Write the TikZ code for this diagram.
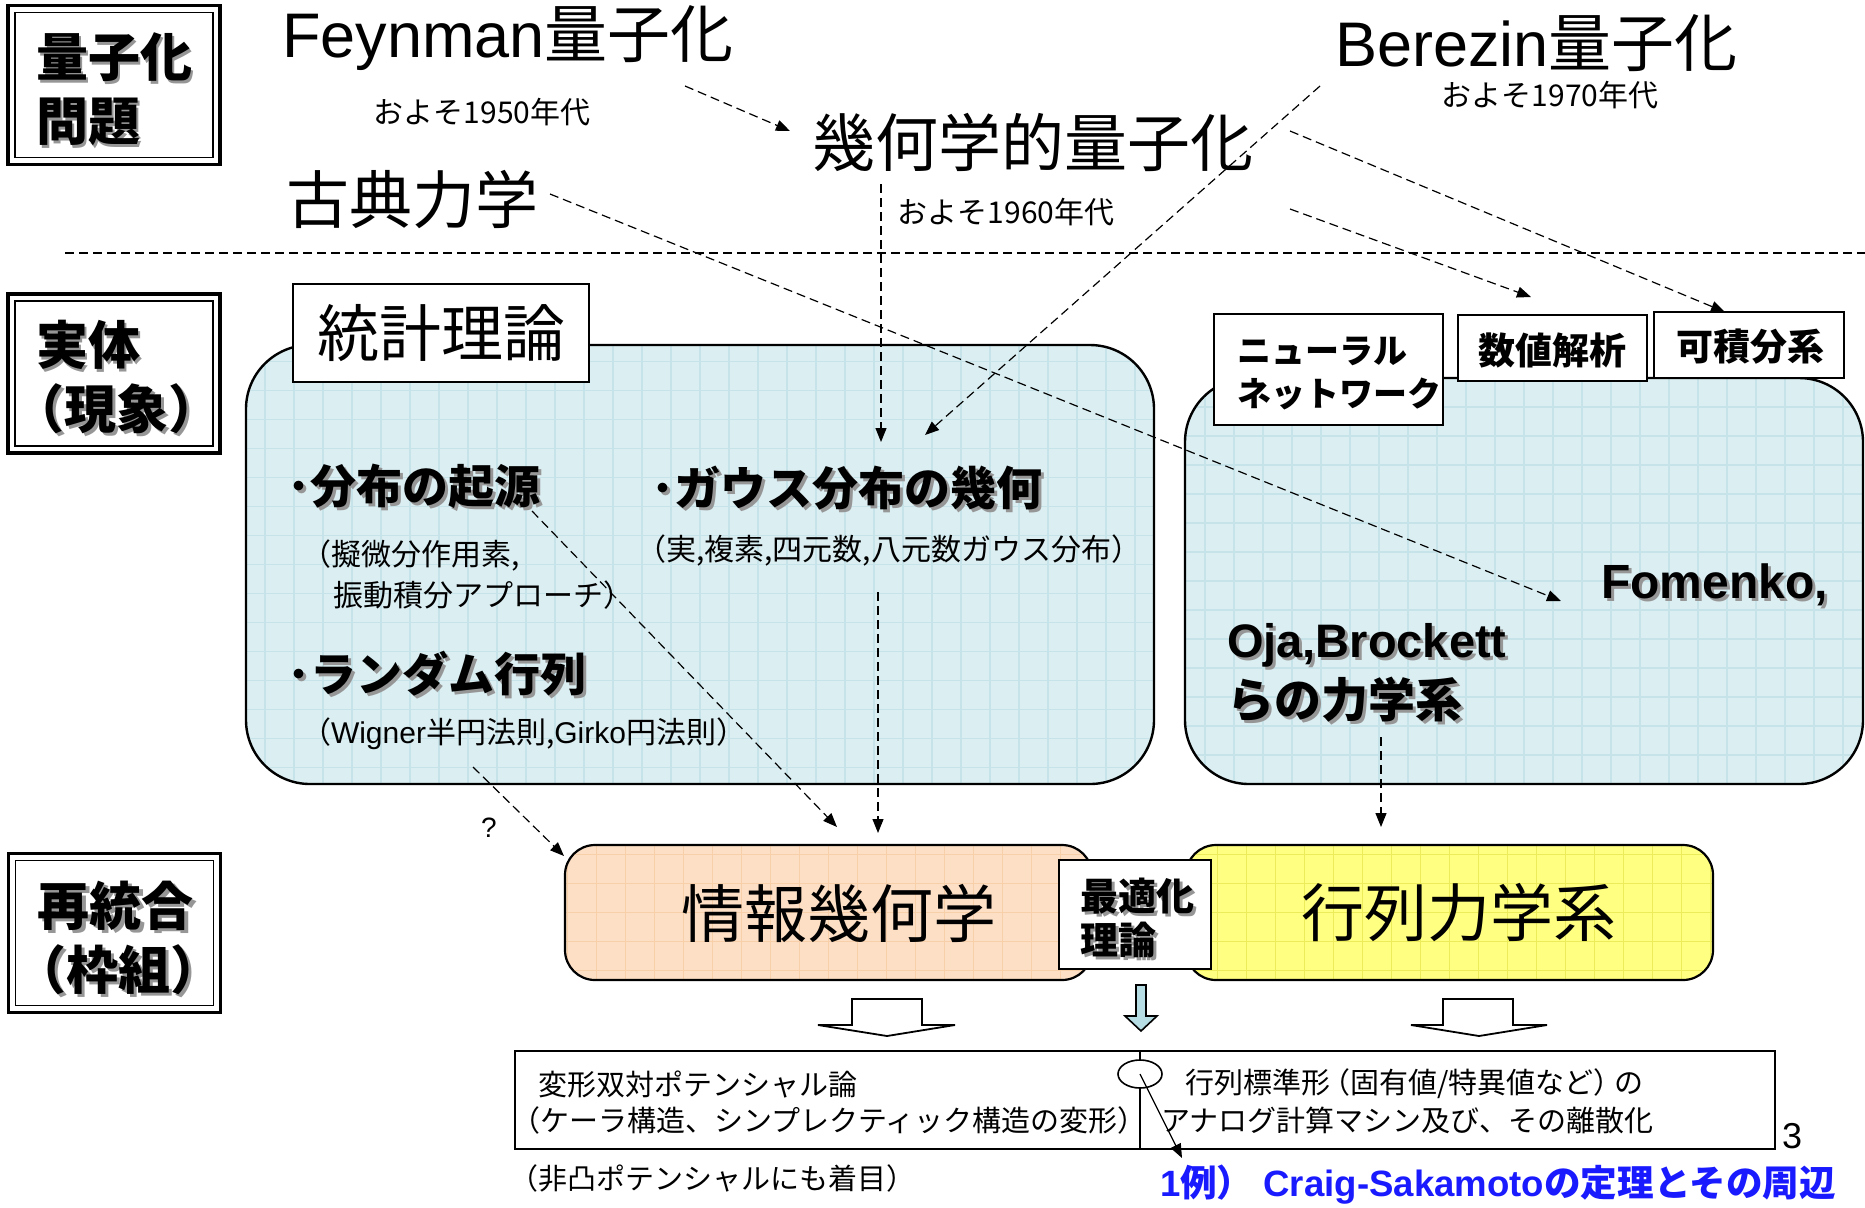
\documentclass[tikz,border=0pt]{standalone}
\usepackage{fontspec}
\setmainfont{Noto Sans CJK JP}
\newfontfamily\lat{Liberation Sans}
\usetikzlibrary{arrows.meta,calc,shapes.geometric}
\definecolor{cyanfill}{RGB}{219,238,242}
\definecolor{cyangrid}{RGB}{198,227,233}
\definecolor{peachfill}{RGB}{252,223,197}
\definecolor{peachgrid}{RGB}{247,208,170}
\definecolor{yelfill}{RGB}{255,255,130}
\definecolor{yelgrid}{RGB}{236,236,90}
\definecolor{arrowblue}{RGB}{183,221,228}
\definecolor{exblue}{RGB}{26,26,255}
\definecolor{shadowgray}{RGB}{150,150,150}
\newcommand\fbig{\fontsize{31.5}{36}\selectfont}
\newcommand\fsm{\fontsize{14.5}{17}\selectfont}
\newcommand\fsmb{\fontsize{15}{18}\selectfont}
\newcommand\fhead{\fontsize{23}{27}\selectfont}
\newcommand\flab{\fontsize{26}{32}\selectfont}
\newcommand\lp{\kern-0.4em（}
\newcommand\rp{）\kern-0.4em}
\newcommand\shnode[4]{\node[#3,text=shadowgray] at ($(#2)+(3,3)$) {#4};\node[#3] (#1) at (#2) {#4};}
\begin{document}
\begin{tikzpicture}[x=0.5pt,y=-0.5pt,
  every node/.style={inner sep=0pt, outer sep=0pt},
  labelbox/.style={draw, line width=1.6pt, minimum width=106pt, minimum height=79.5pt},
  region/.style={draw, line width=1.2pt, rounded corners=32pt},
  lowbox/.style={draw, line width=1.1pt, rounded corners=15pt, minimum width=263.5pt, minimum height=67.5pt},
  tagbox/.style={draw, line width=1pt, fill=white},
  gridpic/.style={path picture={\draw[#1, line width=0.6pt, step=14.5pt] (path picture bounding box.south west) grid (path picture bounding box.north east);}},
  darr/.style={dash pattern=on 4.5pt off 2.5pt, line width=0.6pt, -{Triangle[length=7pt,width=5.5pt]}},
  blockarrow/.style={draw, line width=0.9pt, fill=white, line join=miter},
  lt/.style={anchor=west},
]
\useasboundingbox (0,0) rectangle (1865,1207);

% ---- left label boxes
\node[labelbox] (bq) at (114,85) {};
\draw[line width=0.8pt] ([shift={(3.5pt,-3.5pt)}]bq.north west) rectangle ([shift={(-3.5pt,3.5pt)}]bq.south east);
\shnode{tq}{36,89}{lt, align=left, font=\flab\bfseries}{量子化\\問題}
\node[labelbox] (bj) at (114,373.5) {};
\draw[line width=0.8pt] ([shift={(3.5pt,-3.5pt)}]bj.north west) rectangle ([shift={(-3.5pt,3.5pt)}]bj.south east);
\shnode{tj}{36,377}{lt, align=left, font=\flab\bfseries}{実体\\\kern-0.45em（現象）}
\node[labelbox] (bs) at (114.5,933) {};
\draw[line width=0.8pt] ([shift={(3.5pt,-3.5pt)}]bs.north west) rectangle ([shift={(-3.5pt,3.5pt)}]bs.south east);
\shnode{ts}{38,938}{lt, align=left, font=\flab\bfseries}{再統合\\\kern-0.45em（枠組）}

% ---- top titles
\node[lt, font=\fbig] (feyn) at (282,38) {{\lat Feynman}量子化};
\node[font=\fsmb] (y50) at (482,112) {およそ1950年代};
\node[font=\fbig] (geo) at (1033,142) {幾何学的量子化};
\node[lt, font=\fbig] (bere) at (1335,43) {{\lat Berezin}量子化};
\node[font=\fsmb] (y70) at (1550,95) {およそ1970年代};
\node[font=\fbig] (clas) at (412,200) {古典力学};
\node[font=\fsmb] (y60) at (1006,212) {およそ1960年代};

\coordinate (sepL) at (65,253);
\coordinate (sepR) at (1865,253);
\draw[dash pattern=on 4.5pt off 2.5pt, line width=0.6pt] (sepL) -- (sepR);

% ---- regions
\node[region, fill=cyanfill, gridpic=cyangrid, minimum width=454pt, minimum height=219.5pt] (stat) at (700,564.5) {};
\node[region, fill=cyanfill, gridpic=cyangrid, minimum width=339pt, minimum height=203pt] (dyn) at (1524,581) {};

\node[tagbox, minimum width=148pt, minimum height=49pt] (tstat) at (441,333) {};
\node[font=\fontsize{31}{36}\selectfont] (tstatt) at (441,333) {統計理論};

\node[tagbox, minimum width=114.5pt, minimum height=55.5pt] (bnn) at (1328.5,369.5) {};
\node[lt, align=left, font=\fontsize{17}{21.5}\selectfont\bfseries] (tnn) at (1237,373) {ニューラル\\ネットワーク};
\node[tagbox, minimum width=94.5pt, minimum height=33pt] (bna) at (1552.5,348) {};
\node[font=\fontsize{18.5}{22}\selectfont\bfseries] (tna) at (1552,350) {数値解析};
\node[tagbox, minimum width=95pt, minimum height=33pt] (bint) at (1749,345) {};
\node[font=\fontsize{18.5}{22}\selectfont\bfseries] (tint) at (1750,347) {可積分系};

% ---- statistics contents
\shnode{h1}{287,486}{lt, font=\fhead\bfseries}{･分布の起源}
\shnode{h2}{651,488}{lt, font=\fhead\bfseries}{･ガウス分布の幾何}
\shnode{h3}{287,674}{lt, font=\fhead\bfseries}{･ランダム行列}
\node[lt, font=\fsmb] (s1a) at (313,555) {\lp 擬微分作用素,};
\node[lt, font=\fsmb] (s1b) at (333,595) {振動積分アプローチ）};
\node[lt, font=\fsmb] (s2) at (648,550) {\lp 実,複素,四元数,八元数ガウス分布）};
\node[lt, font=\fsmb] (s3) at (313,734) {\lp{\lat Wigner}半円法則,{\lat Girko}円法則）};

% ---- dynamics contents
\shnode{fom}{1601,585}{lt, font=\fontsize{24}{28}\selectfont\bfseries\lat}{Fomenko,}
\shnode{oja}{1227,673}{lt, align=left, font=\fontsize{23.5}{30}\selectfont\bfseries}{{\lat Oja,Brockett}\\らの力学系}

% ---- lower boxes
\node[lowbox, fill=peachfill, gridpic=peachgrid] (ig) at (828.5,912.5) {};
\node[font=\fbig] (igt) at (839,913) {情報幾何学};
\node[lowbox, fill=yelfill, gridpic=yelgrid] (md) at (1449.5,912.5) {};
\node[font=\fbig] (mdt) at (1459,913) {行列力学系};
\node[tagbox, minimum width=76pt, minimum height=54.5pt] (opt) at (1135,914.5) {};
\shnode{optt}{1080,918}{lt, align=left, font=\fontsize{19}{22}\selectfont\bfseries}{最適化\\理論}

% ---- block arrows
\draw[blockarrow] (852,999) -- (922,999) -- (922,1025) -- (955,1025) -- (887,1036) -- (818,1025) -- (852,1025) -- cycle;
\draw[blockarrow] (1443,999) -- (1513,999) -- (1513,1025) -- (1547,1025) -- (1479,1036) -- (1411,1025) -- (1443,1025) -- cycle;
\draw[blockarrow, fill=arrowblue, line width=0.8pt] (1136,985) -- (1146,985) -- (1146,1016) -- (1157,1016) -- (1141,1031) -- (1125,1016) -- (1136,1016) -- cycle;

% ---- bottom box
\node[draw, line width=0.8pt, minimum width=630pt, minimum height=49pt] (bot) at (1145,1100) {};
\node[draw, ellipse, fill=white, line width=0.8pt, minimum width=22pt, minimum height=14pt] (ell) at (1140,1074) {};
\draw[line width=0.8pt] (bot.north -| ell.center) -- (ell.north);
\draw[line width=0.8pt] (ell.south) -- (bot.south -| ell.center);
\node[lt, font=\fsm] (b1) at (538,1084) {変形双対ポテンシャル論};
\node[lt, font=\fsm] (b2) at (523,1120) {\lp ケーラ構造、シンプレクティック構造の変形）};
\node[lt, font=\fsm] (b3) at (1185,1084) {行列標準形\kern-0.3em（固有値/特異値など\rp\kern0.1em の};
\node[lt, font=\fsm] (b4) at (1161,1120) {アナログ計算マシン及び、その離散化};
\node[lt, font=\fsm] (b5) at (521,1178) {\lp 非凸ポテンシャルにも着目）};
\node[font=\fontsize{18}{20}\selectfont\lat] (pg) at (1792,1136) {3};
\node[lt, font=\fontsize{18.3}{21}\selectfont\bfseries, text=exblue] (ex) at (1160,1185) {{\lat 1}例）\hspace{5pt}{\lat Craig-Sakamoto}の定理とその周辺};
\node[font=\fontsize{14}{17}\selectfont\lat] (qm) at (489,828) {?};
\coordinate (exarr) at (1182,1158);
\draw[line width=0.6pt, -{Triangle[length=7pt,width=5.5pt]}] (ell.center) -- (exarr);

% ---- dashed connectors
\coordinate (a1) at (685,86);   \coordinate (a2) at (790,131);
\coordinate (b1s) at (881,184); \coordinate (b2e) at (881,442);
\coordinate (c1) at (1320,86);  \coordinate (c2) at (925,435);
\coordinate (d1) at (1290,131); \coordinate (d2) at (1725,312);
\coordinate (e1) at (1290,209); \coordinate (e2) at (1531,297);
\coordinate (f1) at (550,194);  \coordinate (f2) at (1561,601);
\coordinate (g1) at (532,511);  \coordinate (g2) at (837,827);
\coordinate (h1s) at (878,592); \coordinate (h2e) at (878,833);
\coordinate (i1) at (473,767);  \coordinate (i2) at (564,856);
\coordinate (j1) at (1381,737); \coordinate (j2) at (1381,827);
\draw[darr] (a1) -- (a2);
\draw[darr] (b1s) -- (b2e);
\draw[darr] (c1) -- (c2);
\draw[darr] (d1) -- (d2);
\draw[darr] (e1) -- (e2);
\draw[darr] (f1) -- (f2);
\draw[darr] (g1) -- (g2);
\draw[darr] (h1s) -- (h2e);
\draw[darr] (i1) -- (i2);
\draw[darr] (j1) -- (j2);
\end{tikzpicture}
\end{document}
